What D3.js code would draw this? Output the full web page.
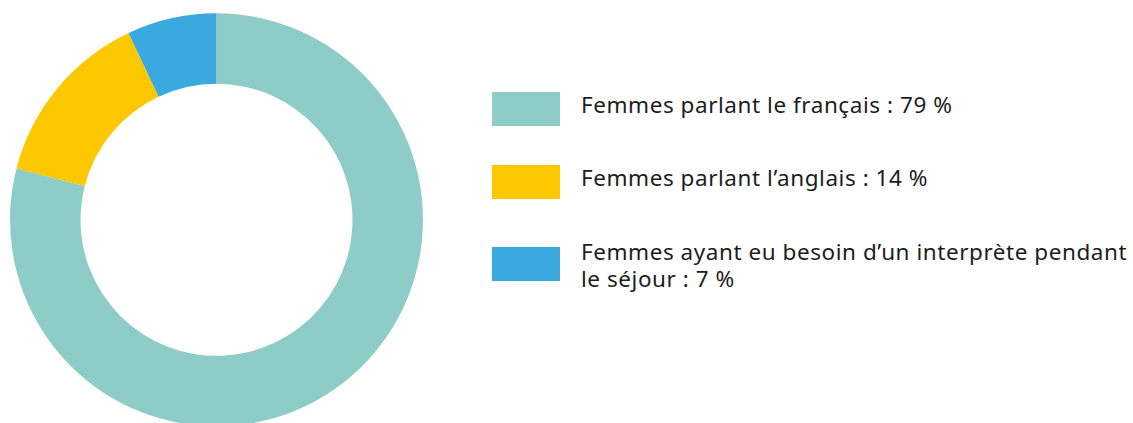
<!DOCTYPE html>
<html>
<head>
<meta charset="utf-8">
<script src="https://cdn.jsdelivr.net/npm/d3@7"></script>
<style>
  body { margin: 0; background: #fff; }
  svg { display: block; }
  .legend text { font-family: "Noto Sans", "Open Sans", sans-serif; font-size: 22.5px; letter-spacing: 0.55px; fill: #1d1d1d; }
</style>
</head>
<body>
<svg id="chart" width="1133" height="423"></svg>
<script>
const labels = [
  ["Femmes parlant le français : 79 %"],
  ["Femmes parlant l\u2019anglais : 14 %"],
  ["Femmes ayant eu besoin d\u2019un interprète pendant", "le séjour : 7 %"]
]
const values = [79, 14, 7]
const colors = ["#8ecdc7", "#fdc800", "#39a9df"]

const svg = d3.select("#chart")

const pie = d3.pie().sort(null).value(d => d)
const arc = d3.arc().innerRadius(136).outerRadius(206.5)

const donut = svg.append("g")
    .attr("transform", "translate(216.5,219.8)")

donut.selectAll("path")
    .data(pie(values))
    .join("path")
    .attr("d", arc)
    .attr("fill", (d, i) => colors[i])

// legend rows: 73px per row, plus a bit for each wrapped line
let rowY = []
let y = 109
labels.forEach((l, i) => {
    if (i > 0) y += 73 + (l.length - 1) * 9
    rowY.push(y)
})

const legend = svg.append("g").attr("class", "legend")

const item = legend.selectAll("g")
    .data(values)
    .join("g")
    .attr("transform", (d, i) => `translate(492,${rowY[i]})`)

item.append("rect")
    .attr("x", 0)
    .attr("y", -17)
    .attr("width", 68)
    .attr("height", 34)
    .attr("fill", (d, i) => colors[i])

item.append("text")
    .attr("y", (d, i) => labels[i].length > 1 ? -4 : 3.7)
    .selectAll("tspan")
    .data((d, i) => labels[i])
    .join("tspan")
    .attr("x", 89)
    .attr("dy", (t, j) => j === 0 ? 0 : 27)
    .text(t => t)
</script>
</body>
</html>
